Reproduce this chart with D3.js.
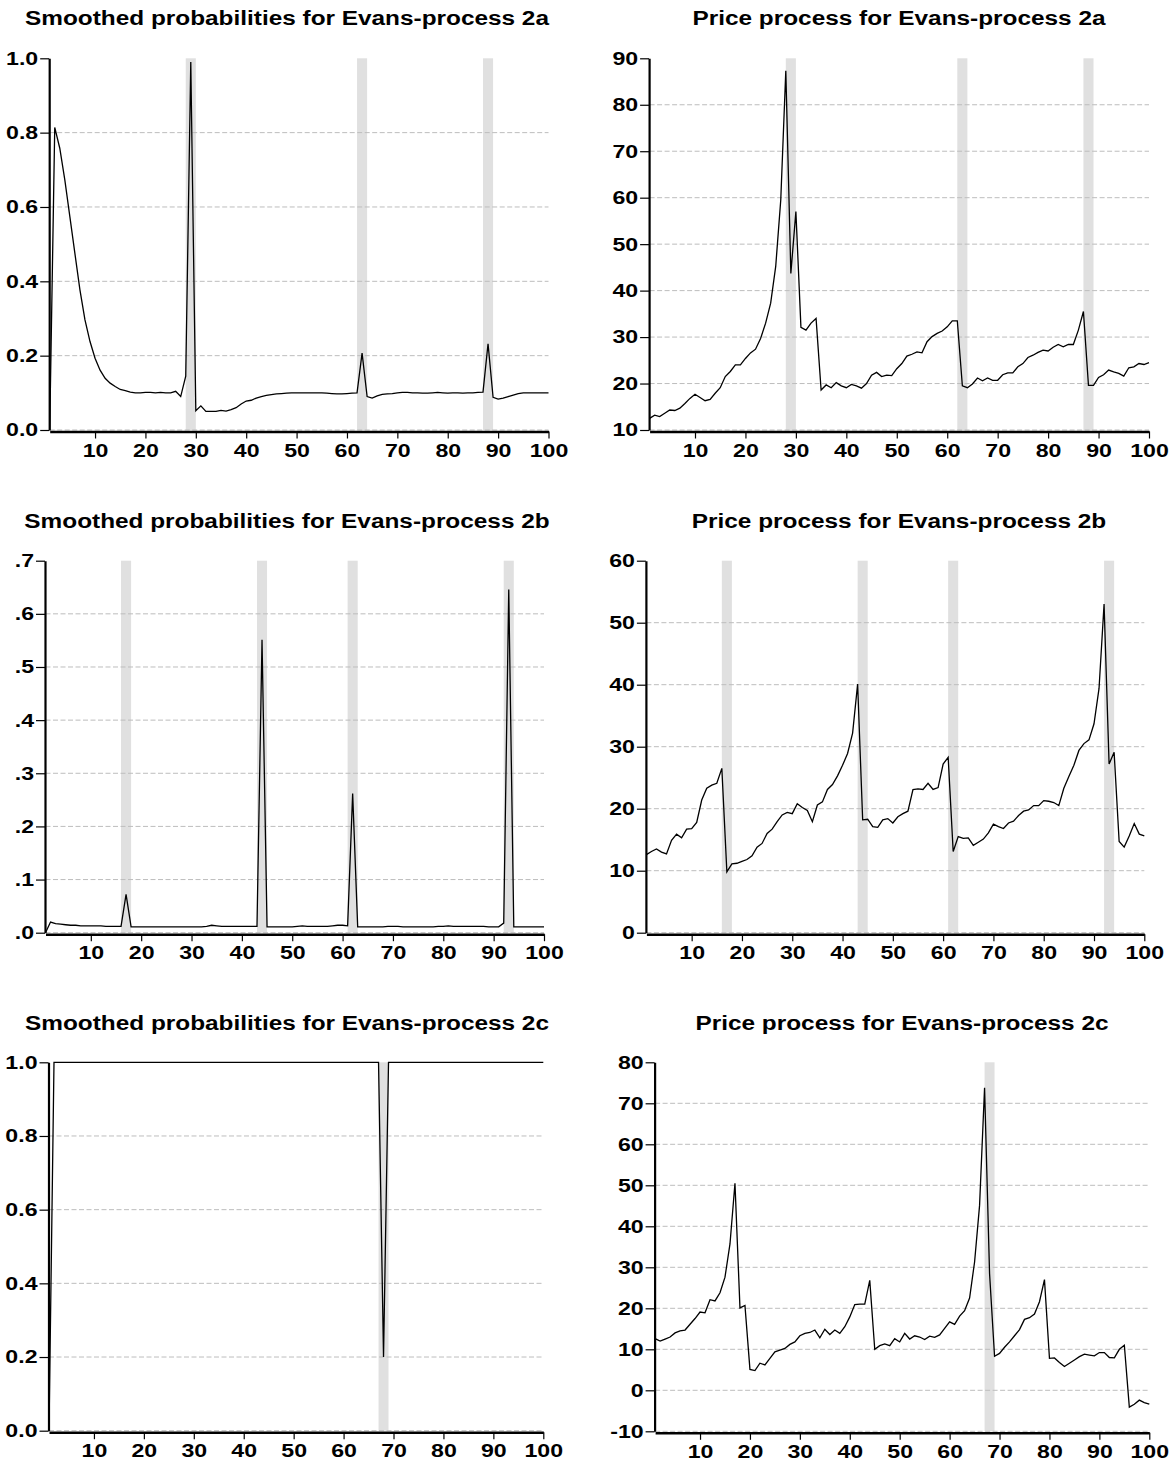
<!DOCTYPE html>
<html><head><meta charset="utf-8">
<script src="https://cdn.jsdelivr.net/npm/d3@7"></script>
<style>body{margin:0;background:#fff}svg{display:block}</style>
</head><body>
<svg id="c" width="1173" height="1466"></svg>
<script>
// ---------- DATA ----------
const obs = d3.range(1, 101);
const xTicks = [10,20,30,40,50,60,70,80,90,100];

const titles = [
  "Smoothed probabilities for Evans-process 2a",
  "Price process for Evans-process 2a",
  "Smoothed probabilities for Evans-process 2b",
  "Price process for Evans-process 2b",
  "Smoothed probabilities for Evans-process 2c",
  "Price process for Evans-process 2c"
];

const prob2a = [0.0,0.814,0.758,0.673,0.574,0.475,0.377,0.296,0.238,0.193,
 0.161,0.139,0.126,0.117,0.109,0.106,0.102,0.100,0.100,0.101,
 0.101,0.100,0.101,0.100,0.100,0.104,0.090,0.145,0.990,0.052,
 0.065,0.050,0.050,0.050,0.053,0.051,0.055,0.060,0.070,0.078,
 0.080,0.086,0.090,0.093,0.095,0.097,0.098,0.099,0.100,0.100,
 0.100,0.100,0.100,0.100,0.100,0.099,0.098,0.097,0.097,0.098,
 0.099,0.100,0.207,0.090,0.086,0.092,0.096,0.097,0.098,0.100,
 0.101,0.101,0.100,0.100,0.099,0.099,0.100,0.101,0.100,0.099,
 0.100,0.100,0.099,0.100,0.100,0.101,0.102,0.232,0.088,0.083,
 0.086,0.090,0.094,0.098,0.100,0.100,0.100,0.100,0.100,0.100];

const price2a = [12.5,13.2,12.9,13.6,14.3,14.2,14.7,15.7,16.8,17.7,
 17.0,16.3,16.6,17.9,19.1,21.5,22.6,24.0,24.0,25.4,
 26.6,27.4,29.7,33.0,37.3,45.2,59.5,87.3,43.7,57.0,
 32.1,31.5,33.0,34.0,18.6,19.7,19.1,20.2,19.5,19.1,
 19.8,19.5,19.0,20.0,21.8,22.4,21.5,21.8,21.7,23.2,
 24.3,25.9,26.3,26.8,26.6,29.0,30.1,30.8,31.3,32.2,
 33.5,33.5,19.5,19.1,19.9,21.2,20.6,21.2,20.7,20.7,
 21.9,22.3,22.3,23.6,24.3,25.6,26.1,26.7,27.2,27.0,
 27.8,28.4,27.9,28.4,28.4,31.5,35.5,19.6,19.6,21.3,
 21.9,22.9,22.5,22.2,21.6,23.4,23.6,24.3,24.1,24.5];

const prob2b = [0.0,0.020,0.017,0.016,0.015,0.014,0.014,0.013,0.013,0.013,
 0.013,0.013,0.012,0.012,0.012,0.012,0.072,0.011,0.011,0.011,
 0.011,0.011,0.011,0.011,0.011,0.011,0.011,0.011,0.011,0.011,
 0.011,0.011,0.012,0.014,0.013,0.012,0.012,0.012,0.012,0.012,
 0.012,0.012,0.012,0.551,0.011,0.011,0.011,0.011,0.011,0.011,
 0.012,0.013,0.012,0.012,0.012,0.012,0.012,0.013,0.014,0.014,
 0.013,0.262,0.011,0.011,0.011,0.011,0.011,0.011,0.012,0.012,
 0.012,0.011,0.011,0.011,0.011,0.011,0.011,0.011,0.012,0.012,
 0.013,0.012,0.012,0.012,0.012,0.012,0.012,0.012,0.011,0.011,
 0.011,0.018,0.646,0.011,0.011,0.011,0.011,0.011,0.011,0.011];

const price2b = [12.6,13.1,13.5,13.0,12.7,14.9,15.9,15.3,16.7,16.8,
 17.8,21.4,23.3,23.8,24.1,26.5,9.8,11.1,11.2,11.5,
 11.8,12.4,13.8,14.4,16.0,16.7,17.9,19.0,19.4,19.2,
 20.8,20.2,19.7,17.9,20.6,21.1,23.1,23.9,25.3,27.0,
 28.9,32.2,40.1,18.2,18.3,17.1,17.0,18.2,18.4,17.7,
 18.7,19.2,19.6,23.1,23.2,23.1,24.1,23.1,23.4,27.2,
 28.3,13.1,15.5,15.2,15.3,14.1,14.6,15.1,16.1,17.5,
 17.1,16.8,17.7,18.0,18.9,19.6,19.8,20.5,20.5,21.3,
 21.2,21.0,20.5,23.3,25.2,27.0,29.4,30.5,31.1,33.7,
 39.4,53.0,27.2,29.1,14.7,13.8,15.6,17.6,15.9,15.6];

const prob2c = [0.0,1,1,1,1,1,1,1,1,1,
 1,1,1,1,1,1,1,1,1,1,
 1,1,1,1,1,1,1,1,1,1,
 1,1,1,1,1,1,1,1,1,1,
 1,1,1,1,1,1,1,1,1,1,
 1,1,1,1,1,1,1,1,1,1,
 1,1,1,1,1,1,1,0.2,1,1,
 1,1,1,1,1,1,1,1,1,1,
 1,1,1,1,1,1,1,1,1,1,
 1,1,1,1,1,1,1,1,1,1];

const price2c = [12.6,12.0,12.5,13.0,14.0,14.5,14.7,16.1,17.5,19.1,
 18.9,22.1,21.8,23.8,27.6,35.7,50.5,20.1,20.7,5.1,
 4.8,6.6,6.2,7.8,9.4,9.8,10.2,11.2,11.8,13.3,
 13.9,14.1,14.7,12.8,14.9,13.6,14.7,13.9,15.5,17.9,
 20.9,21.0,21.0,26.8,10.0,10.9,11.3,10.9,12.6,11.8,
 13.9,12.5,13.3,13.0,12.4,13.2,12.9,13.5,15.1,16.7,
 16.1,18.1,19.4,22.5,31.3,45.1,73.8,28.5,8.3,9.0,
 10.5,11.8,13.3,14.8,17.3,17.7,18.6,21.6,27.0,7.8,
 7.9,6.8,5.8,6.6,7.4,8.2,8.8,8.6,8.4,9.2,
 9.2,8.0,7.9,10.0,11.0,-4.1,-3.4,-2.4,-3.0,-3.4];

const shade2a = [[28,30],[62,64],[87,89]];
const shade2b = [[16,18],[43,45],[61,63],[92,94]];
const shade2c = [[67,69]];

const yTicksP2a = [0,0.2,0.4,0.6,0.8,1.0];
const yLabsP2a  = ["0.0","0.2","0.4","0.6","0.8","1.0"];
const yTicksQ2a = [10,20,30,40,50,60,70,80,90];
const yLabsQ2a  = ["10","20","30","40","50","60","70","80","90"];
const yTicksP2b = [0,0.1,0.2,0.3,0.4,0.5,0.6,0.7];
const yLabsP2b  = [".0",".1",".2",".3",".4",".5",".6",".7"];
const yTicksQ2b = [0,10,20,30,40,50,60];
const yLabsQ2b  = ["0","10","20","30","40","50","60"];
const yTicksP2c = [0,0.2,0.4,0.6,0.8,1.0];
const yLabsP2c  = ["0.0","0.2","0.4","0.6","0.8","1.0"];
const yTicksQ2c = [-10,0,10,20,30,40,50,60,70,80];
const yLabsQ2c  = ["-10","0","10","20","30","40","50","60","70","80"];

// ---------- LAYOUT ----------
const panels = [
  {title:titles[0], values:prob2a,  shade:shade2a, yt:yTicksP2a, yl:yLabsP2a, x0:49.7, x1:548.5, yTop:58.3, yBot:430,  tx:287, ty:25},
  {title:titles[1], values:price2a, shade:shade2a, yt:yTicksQ2a, yl:yLabsQ2a, x0:649.6,x1:1149,  yTop:58.3, yBot:430,  tx:899, ty:25},
  {title:titles[2], values:prob2b,  shade:shade2b, yt:yTicksP2b, yl:yLabsP2b, x0:45.5, x1:544,   yTop:560.7,yBot:932.7,tx:287, ty:528},
  {title:titles[3], values:price2b, shade:shade2b, yt:yTicksQ2b, yl:yLabsQ2b, x0:646.4,x1:1144.3,yTop:560.7,yBot:932.7,tx:899, ty:528},
  {title:titles[4], values:prob2c,  shade:shade2c, yt:yTicksP2c, yl:yLabsP2c, x0:49,   x1:543.3, yTop:1062.3,yBot:1430.7,tx:287, ty:1030},
  {title:titles[5], values:price2c, shade:shade2c, yt:yTicksQ2c, yl:yLabsQ2c, x0:655.1,x1:1149.3,yTop:1062.3,yBot:1431.3,tx:902, ty:1030}
];

const FONT = "'Liberation Sans', Arial, Helvetica, sans-serif";
const SX = 1.25;
const svg = d3.select("#c");

panels.forEach(p => {
  const g = svg.append("g");
  const x = d3.scaleLinear().domain([1,100]).range([p.x0, p.x1]);
  const y = d3.scaleLinear().domain([d3.min(p.yt), d3.max(p.yt)]).range([p.yBot, p.yTop]);

  // shading
  g.selectAll("rect.sh").data(p.shade).enter().append("rect")
    .attr("x", d => x(d[0])).attr("width", d => x(d[1]) - x(d[0]))
    .attr("y", p.yTop).attr("height", p.yBot - p.yTop)
    .attr("fill", "#e0e0e0");

  // gridlines
  g.selectAll("line.grid").data(p.yt.slice(0, -1)).enter().append("line")
    .attr("x1", x(1)).attr("x2", x(100))
    .attr("y1", d => y(d)).attr("y2", d => y(d))
    .attr("stroke", "#bdbdbd").attr("stroke-width", 1)
    .attr("stroke-dasharray", "5,2.5");

  // line
  const line = d3.line().x((d,i) => x(obs[i])).y(d => y(d));
  g.append("path").datum(p.values).attr("d", line)
    .attr("fill", "none").attr("stroke", "#000").attr("stroke-width", 1.3)
    .attr("stroke-linejoin", "miter");

  // y axis
  const ya = g.append("g").attr("transform", `translate(${p.x0 - 0.5},0)`)
    .call(d3.axisLeft(y).tickValues(p.yt).tickFormat((d,i) => p.yl[i])
      .tickSize(9).tickSizeOuter(0).tickPadding(2));
  ya.select(".domain").attr("stroke-width", 2.2);
  ya.selectAll(".tick line").attr("stroke-width", 1.2);
  ya.selectAll("text").attr("font-family", FONT).attr("font-size", 18.5)
    .attr("font-weight", "bold").attr("fill", "#000")
    .attr("x", -11 / SX).attr("transform", `scale(${SX},1)`);

  // x axis
  const xa = g.append("g").attr("transform", `translate(0,${p.yBot + 1.5})`)
    .call(d3.axisBottom(x).tickValues(xTicks).tickFormat(d3.format("d"))
      .tickSize(7).tickSizeOuter(0).tickPadding(5));
  xa.select(".domain").attr("stroke-width", 2.5);
  xa.selectAll(".tick line").attr("stroke-width", 1.2);
  xa.selectAll("text").attr("font-family", FONT).attr("font-size", 18.5)
    .attr("font-weight", "bold").attr("fill", "#000")
    .attr("transform", `scale(${SX},1)`);

  // title
  g.append("text").attr("transform", `translate(${p.tx},${p.ty}) scale(${SX},1)`)
    .attr("text-anchor", "middle").attr("font-family", FONT)
    .attr("font-size", 19.5).attr("font-weight", "bold").attr("fill", "#000")
    .text(p.title);
});
</script>
</body></html>
